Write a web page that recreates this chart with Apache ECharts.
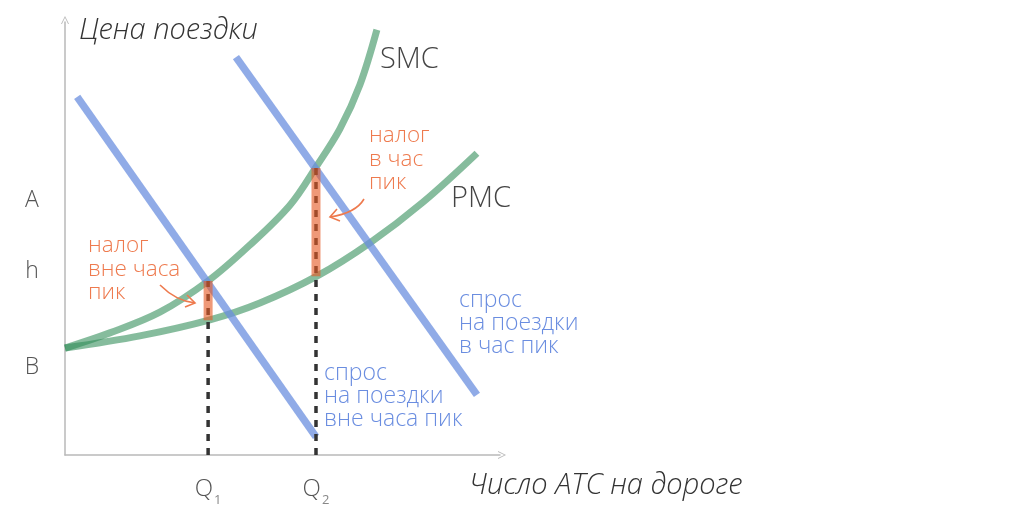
<!DOCTYPE html>
<html>
<head>
<meta charset="utf-8">
<script src="https://cdn.jsdelivr.net/npm/echarts@6/dist/echarts.min.js"></script>
<style>html,body{margin:0;padding:0;background:#fff}#c{width:1024px;height:509px}</style>
</head>
<body>
<div id="c"></div>
<script>
// ---- data (schematic units 0..100) ----
const offPeakDemandX = [2.8, 57.7];
const offPeakDemandY = [82.7, 4.2];
const peakDemandX = [39.3, 94.7];
const peakDemandY = [91.9, 13.9];
const smcX = [0, 10.3, 21.8, 32.9, 42.5, 51.7, 57.7, 63.2, 67.8, 71.7];
const smcY = [24.7, 28.2, 33.0, 40.2, 48.5, 57.7, 66.5, 75.3, 85.5, 98.2];
const pmcX = [0, 17.2, 33.3, 44.8, 57.9, 70.1, 82.3, 94.7];
const pmcY = [24.7, 27.5, 31.2, 35.1, 41.3, 49.0, 58.4, 69.7];
const qValues = [32.9, 57.7];
const qSubscripts = ['1', '2'];
const taxTop = [40.2, 66.3];
const taxBottom = [31.1, 41.3];
const priceTicks = [58.9, 42.5, 20.3];
const priceLabels = ['A', 'h', 'B'];

const zip = (xs, ys) => xs.map((x, i) => [x, ys[i]]);
const FONT = '"Open Sans", "Noto Sans", sans-serif';
const GREEN = 'rgba(46,139,87,0.58)';
const BLUE = 'rgba(105,142,222,0.74)';
const ORANGE = '#ee7a4e';
const TEXTBLUE = '#6a8de0';
const chev = 'path://M0,10L5,0L10,10L8.8,10L5,2.2L1.2,10Z';

const chart = echarts.init(document.getElementById('c'), null, {renderer: 'canvas'});

const series = [];
series.push({type: 'line', data: zip(pmcX, pmcY), smooth: 0.35, symbol: 'none',
  lineStyle: {color: GREEN, width: 7}, z: 2});
series.push({type: 'line', data: zip(smcX, smcY), smooth: 0.35, symbol: 'none',
  lineStyle: {color: GREEN, width: 7}, z: 2});
series.push({type: 'line', data: zip(offPeakDemandX, offPeakDemandY), symbol: 'none',
  lineStyle: {color: BLUE, width: 7.5}, z: 3});
series.push({type: 'line', data: zip(peakDemandX, peakDemandY), symbol: 'none',
  lineStyle: {color: BLUE, width: 7.5}, z: 3});
qValues.forEach((q, i) => {
  series.push({type: 'line', data: [[q, 0], [q, taxTop[i]]], symbol: 'none',
    lineStyle: {color: '#333', width: 3.5, type: [7, 7]}, z: 4});
  series.push({type: 'line', data: [[q, taxBottom[i]], [q, taxTop[i]]], symbol: 'none',
    lineStyle: {color: 'rgba(229,90,37,0.62)', width: 9}, z: 5});
});

chart.setOption({
  animation: false,
  backgroundColor: '#fff',
  grid: {left: 65, right: 524, top: 22, bottom: 54, containLabel: false},
  xAxis: {
    type: 'value', min: 0, max: 100,
    splitLine: {show: false},
    axisTick: {show: false},
    axisLine: {show: true, lineStyle: {color: '#b9b9b9', width: 1.5},
      symbol: ['none', chev], symbolSize: [12, 8], symbolOffset: [0, 2]},
    axisLabel: {
      customValues: qValues,
      margin: 20,
      formatter: (v) => {
        const i = qValues.indexOf(v);
        return '{q|Q}{s|' + (i >= 0 ? qSubscripts[i] : '') + '}';
      },
      rich: {
        q: {fontFamily: FONT, fontSize: 24, color: '#555', lineHeight: 28, fontWeight: 300},
        s: {fontFamily: FONT, fontSize: 13, color: '#888', lineHeight: 14, verticalAlign: 'bottom', padding: [0, 0, -4, 1]}
      }
    }
  },
  yAxis: {
    type: 'value', min: 0, max: 100,
    splitLine: {show: false},
    axisTick: {show: false},
    axisLine: {show: true, lineStyle: {color: '#b9b9b9', width: 1.5},
      symbol: ['none', chev], symbolSize: [12, 8], symbolOffset: [0, 2]},
    axisLabel: {
      customValues: priceTicks,
      align: 'center',
      margin: 33,
      fontFamily: FONT, fontSize: 23, color: '#555', fontWeight: 300,
      formatter: (v) => {
        const i = priceTicks.indexOf(v);
        return i >= 0 ? priceLabels[i] : '';
      }
    }
  },
  series: series,
  graphic: [
    {type: 'text', left: 79, top: 16, style: {text: 'Цена поездки', font: 'italic 300 29px ' + FONT, fill: '#333'}},
    {type: 'text', left: 469, top: 471, style: {text: 'Число АТС на дороге', font: 'italic 300 29px ' + FONT, fill: '#333'}},
    {type: 'text', left: 380, top: 45, style: {text: 'SMC', font: '300 29px ' + FONT, fill: '#444'}},
    {type: 'text', left: 451, top: 184, style: {text: 'PMC', font: '300 29px ' + FONT, fill: '#444'}},
    {type: 'text', left: 369, top: 124, style: {text: 'налог\nв час\nпик', font: '300 22.5px ' + FONT, fill: ORANGE, lineHeight: 23.5}},
    {type: 'text', left: 88, top: 234, style: {text: 'налог\nвне часа\nпик', font: '300 22.5px ' + FONT, fill: ORANGE, lineHeight: 23.5}},
    {type: 'text', left: 459, top: 289, style: {text: 'спрос\nна поездки\nв час пик', font: '300 23px ' + FONT, fill: TEXTBLUE, lineHeight: 23}},
    {type: 'text', left: 324, top: 362, style: {text: 'спрос\nна поездки\nвне часа пик', font: '300 23px ' + FONT, fill: TEXTBLUE, lineHeight: 23}},
    {type: 'bezierCurve', shape: {x1: 160, y1: 285, x2: 195, y2: 303, cpx1: 176, cpy1: 301}, style: {stroke: ORANGE, lineWidth: 1.6, fill: null}, z: 10},
    {type: 'polyline', shape: {points: [[187, 295], [195, 303], [185, 307]]}, style: {stroke: ORANGE, lineWidth: 1.6, fill: null}, z: 10},
    {type: 'bezierCurve', shape: {x1: 364, y1: 199, x2: 330, y2: 217, cpx1: 356, cpy1: 213}, style: {stroke: ORANGE, lineWidth: 1.6, fill: null}, z: 10},
    {type: 'polyline', shape: {points: [[337, 209], [330, 217], [340, 221]]}, style: {stroke: ORANGE, lineWidth: 1.6, fill: null}, z: 10}
  ]
});
</script>
</body>
</html>
